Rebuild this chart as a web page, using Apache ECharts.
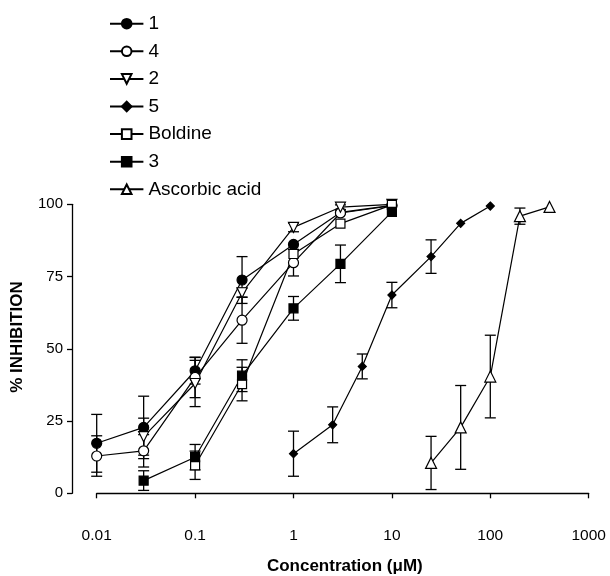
<!DOCTYPE html>
<html>
<head>
<meta charset="utf-8">
<script src="https://cdn.jsdelivr.net/npm/echarts@6/dist/echarts.min.js"></script>
<style>html,body{margin:0;padding:0;background:#fff}#c{width:610px;height:576px}</style>
</head>
<body>
<div id="c"></div>
<script>
// ---- data (concentration in µM, % inhibition, error) ----
const xTicks = [0.01, 0.1, 1, 10, 100, 1000];
const xTickLabels = ['0.01', '0.1', '1', '10', '100', '1000'];
const yTicks = [0, 25, 50, 75, 100];

const c1 = [0.01, 0.03, 0.1, 0.3, 1, 3, 10];
const v1 = [17.3, 22.8, 42.4, 73.8, 86.1, 97.2, 99.6];
const e1 = [10, 10.8, 4.6, 8.1, 0, 0, 0];

const c4 = [0.01, 0.03, 0.1, 0.3, 1, 3, 10];
const v4 = [12.9, 14.7, 40.1, 59.9, 79.8, 97.0, 99.5];
const e4 = [7, 5.6, 7, 8, 4.6, 0, 0];

const c2 = [0.03, 0.1, 0.3, 1, 3, 10];
const v2 = [19.6, 38.0, 69.4, 92.0, 99.0, 100];
const e2 = [6.4, 8, 1.6, 1.5, 0.8, 0];

const c5 = [1, 2.5, 5, 10, 25, 50, 100];
const v5 = [13.7, 23.7, 43.9, 68.6, 81.9, 93.4, 99.4];
const e5 = [7.8, 6.2, 4.3, 4.4, 5.8, 0, 0];

const cB = [0.1, 0.3, 1, 3, 10];
const vB = [9.7, 37.8, 82.8, 93.3, 99.8];
const eB = [4.9, 5.8, 0, 0, 0];

const c3 = [0.03, 0.1, 0.3, 1, 3, 10];
const v3 = [4.4, 12.5, 40.7, 64.0, 79.4, 97.4];
const e3 = [3.4, 4.4, 5.5, 4.1, 6.5, 0];

const cA = [25, 50, 100, 200, 400];
const vA = [10.5, 22.8, 40.4, 95.9, 99.1];
const eA = [9.2, 14.5, 14.3, 2.8, 0];

const names = ['1', '4', '2', '5', 'Boldine', '3', 'Ascorbic acid'];

// ---- build ----
const FONT = '"Liberation Sans", Arial, sans-serif';
const pairs = (c, v) => c.map((x, i) => [x, v[i]]);
const triples = (c, v, e) => c.map((x, i) => [x, v[i], e[i]]);

const defs = [
  { name: '1', c: c1, v: v1, e: e1, symbol: 'circle', size: 10, fill: '#000' },
  { name: '4', c: c4, v: v4, e: e4, symbol: 'circle', size: 10, fill: '#fff' },
  { name: '2', c: c2, v: v2, e: e2, symbol: 'triangle', size: 10, fill: '#fff', rotate: 180 },
  { name: '5', c: c5, v: v5, e: e5, symbol: 'diamond', size: 8, fill: '#000' },
  { name: 'Boldine', c: cB, v: vB, e: eB, symbol: 'rect', size: 9, fill: '#fff' },
  { name: '3', c: c3, v: v3, e: e3, symbol: 'rect', size: 9, fill: '#000' },
  { name: 'Ascorbic acid', c: cA, v: vA, e: eA, symbol: 'triangle', size: 11, fill: '#fff' }
];

let errData = [];
defs.forEach(d => { errData = errData.concat(triples(d.c, d.v, d.e).filter(t => t[2] > 0)); });

const series = [{
  type: 'custom',
  name: 'err',
  clip: false,
  z: 1,
  silent: true,
  encode: { x: 0, y: 1 },
  data: errData,
  renderItem: function (params, api) {
    const x = api.value(0), y = api.value(1), e = api.value(2);
    const t = api.coord([x, y + e]);
    const b = api.coord([x, y - e]);
    const hw = 5.5;
    const st = { stroke: '#000', lineWidth: 1.3 };
    return {
      type: 'group',
      children: [
        { type: 'line', shape: { x1: t[0], y1: t[1], x2: b[0], y2: b[1] }, style: st },
        { type: 'line', shape: { x1: t[0] - hw, y1: t[1], x2: t[0] + hw, y2: t[1] }, style: st },
        { type: 'line', shape: { x1: b[0] - hw, y1: b[1], x2: b[0] + hw, y2: b[1] }, style: st }
      ]
    };
  }
}];

defs.forEach(d => {
  series.push({
    type: 'line',
    name: d.name,
    data: pairs(d.c, d.v),
    symbol: d.symbol,
    symbolSize: d.size,
    symbolRotate: d.rotate || 0,
    showAllSymbol: true,
    clip: false,
    z: 3,
    animation: false,
    lineStyle: { color: '#000', width: 1.2 },
    itemStyle: { color: d.fill, borderColor: '#000', borderWidth: 1.2 },
    emphasis: { disabled: true }
  });
});

const chart = echarts.init(document.getElementById('c'), null, { renderer: 'canvas' });
chart.setOption({
  animation: false,
  backgroundColor: '#fff',
  textStyle: { fontFamily: FONT },
  grid: { left: 96.7, right: 21.3, top: 204.3, bottom: 82.7, containLabel: false },
  legend: {
    data: names,
    orient: 'vertical',
    left: 104,
    top: 8.7,
    itemWidth: 33.4,
    itemHeight: 12,
    itemGap: 7.6,
    selectedMode: false,
    textStyle: { fontFamily: FONT, fontSize: 19, color: '#000', lineHeight: 20 },
    symbolRotate: 'inherit'
  },
  xAxis: {
    type: 'log',
    logBase: 10,
    min: xTicks[0],
    max: xTicks[xTicks.length - 1],
    offset: 24.4,
    axisLine: { show: true, lineStyle: { color: '#000', width: 1.3 } },
    axisTick: { show: true, inside: false, length: 5, lineStyle: { color: '#000', width: 1.3 } },
    minorTick: { show: false },
    splitLine: { show: false },
    axisLabel: {
      color: '#000', fontSize: 15.5, fontFamily: FONT, margin: 10,
      formatter: function (val) {
        const i = xTicks.findIndex(t => Math.abs(Math.log10(t) - Math.log10(val)) < 1e-6);
        return i >= 0 ? xTickLabels[i] : '';
      }
    }
  },
  yAxis: {
    type: 'value',
    min: yTicks[0],
    max: yTicks[yTicks.length - 1],
    interval: 25,
    offset: 24.7,
    axisLine: { show: true, lineStyle: { color: '#000', width: 1.3 } },
    axisTick: { show: true, inside: false, length: 5, lineStyle: { color: '#000', width: 1.3 } },
    splitLine: { show: false },
    axisLabel: { color: '#000', fontSize: 15, fontFamily: FONT, margin: 9 }
  },
  graphic: [
    {
      type: 'text',
      x: 17.5, y: 337,
      rotation: Math.PI / 2,
      style: {
        text: '% INHIBITION', fontFamily: FONT, fontSize: 17, fontWeight: 'bold', fill: '#000',
        align: 'center', verticalAlign: 'middle'
      }
    },
    {
      type: 'text',
      x: 344.8, y: 566,
      style: {
        text: 'Concentration (\u03bcM)', fontFamily: FONT, fontSize: 17, fontWeight: 'bold', fill: '#000',
        align: 'center', verticalAlign: 'middle'
      }
    }
  ],
  series: series
});
</script>
</body>
</html>
